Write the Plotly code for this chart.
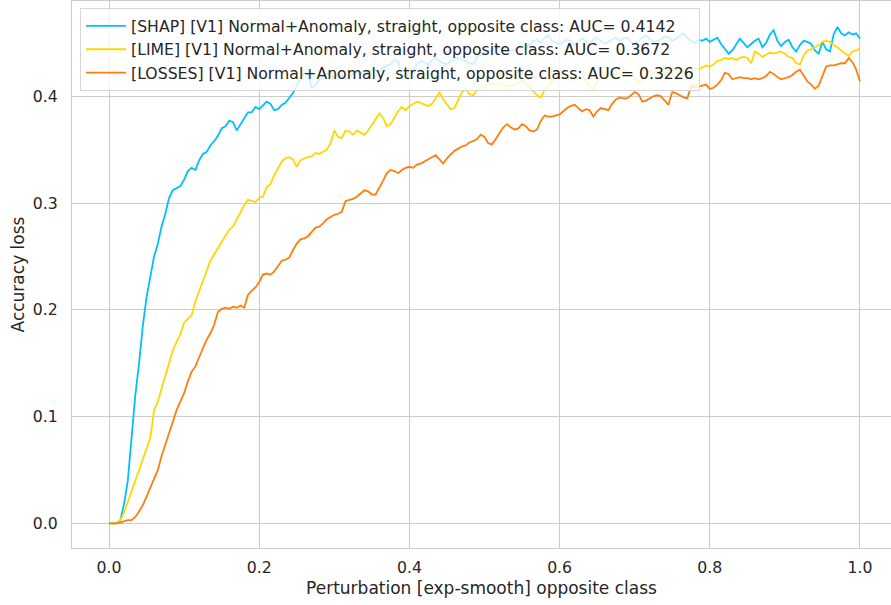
import numpy as np
import plotly.graph_objects as go

# perturbation fraction grid (0 .. 1, step 0.005)
perturbation = np.round(np.arange(201) * 0.005, 3)

shap_loss = [
    0.000, 0.000, 0.000, 0.003, 0.018, 0.040, 0.080, 0.120, 0.150, 0.185,
    0.212, 0.232, 0.250, 0.262, 0.278, 0.290, 0.305, 0.312, 0.314, 0.316,
    0.322, 0.330, 0.333, 0.331, 0.340, 0.346, 0.348, 0.354, 0.358, 0.363,
    0.370, 0.372, 0.377, 0.376, 0.368, 0.374, 0.380, 0.385, 0.385, 0.390,
    0.388, 0.392, 0.395, 0.393, 0.387, 0.388, 0.392, 0.394, 0.399, 0.403,
    0.410, 0.418, 0.422, 0.420, 0.408, 0.410, 0.416, 0.418, 0.421, 0.420,
    0.417, 0.422, 0.419, 0.416, 0.418, 0.421, 0.423, 0.421, 0.424, 0.422,
    0.425, 0.424, 0.423, 0.427, 0.429, 0.430, 0.434, 0.433, 0.417, 0.420,
    0.424, 0.425, 0.430, 0.433, 0.432, 0.429, 0.434, 0.436, 0.433, 0.431,
    0.430, 0.433, 0.435, 0.436, 0.434, 0.433, 0.431, 0.430, 0.437, 0.440,
    0.441, 0.443, 0.443, 0.445, 0.446, 0.444, 0.442, 0.443, 0.444, 0.446,
    0.447, 0.445, 0.449, 0.452, 0.453, 0.450, 0.455, 0.457, 0.452, 0.450,
    0.449, 0.451, 0.453, 0.452, 0.448, 0.451, 0.454, 0.452, 0.450, 0.453,
    0.455, 0.452, 0.449, 0.451, 0.453, 0.455, 0.452, 0.454, 0.455, 0.451,
    0.449, 0.452, 0.455, 0.457, 0.454, 0.451, 0.452, 0.453, 0.456, 0.455,
    0.452, 0.454, 0.457, 0.459, 0.455, 0.452, 0.450, 0.453, 0.452, 0.454,
    0.451, 0.453, 0.455, 0.449, 0.445, 0.440, 0.443, 0.449, 0.454, 0.450,
    0.446, 0.449, 0.452, 0.454, 0.446, 0.450, 0.458, 0.462, 0.452, 0.447,
    0.451, 0.453, 0.446, 0.442, 0.448, 0.452, 0.451, 0.449, 0.443, 0.440,
    0.451, 0.444, 0.442, 0.458, 0.465, 0.459, 0.457, 0.460, 0.458, 0.459,
    0.454,
]

lime_loss = [
    0.000, 0.000, 0.000, 0.003, 0.010, 0.020, 0.030, 0.040, 0.048, 0.058,
    0.068, 0.080, 0.106, 0.114, 0.126, 0.138, 0.152, 0.162, 0.170, 0.177,
    0.188, 0.192, 0.195, 0.208, 0.218, 0.228, 0.238, 0.246, 0.252, 0.258,
    0.263, 0.270, 0.275, 0.278, 0.285, 0.291, 0.298, 0.303, 0.302, 0.301,
    0.305, 0.306, 0.315, 0.318, 0.326, 0.332, 0.339, 0.342, 0.343, 0.341,
    0.334, 0.340, 0.342, 0.343, 0.344, 0.347, 0.346, 0.348, 0.350, 0.356,
    0.368, 0.362, 0.361, 0.368, 0.367, 0.364, 0.368, 0.366, 0.364, 0.368,
    0.373, 0.378, 0.384, 0.380, 0.372, 0.374, 0.380, 0.386, 0.390, 0.387,
    0.391, 0.393, 0.395, 0.394, 0.392, 0.391, 0.393, 0.398, 0.404, 0.397,
    0.393, 0.388, 0.389, 0.396, 0.404, 0.407, 0.402, 0.401, 0.406, 0.408,
    0.409, 0.411, 0.412, 0.411, 0.413, 0.411, 0.409, 0.409, 0.411, 0.413,
    0.415, 0.412, 0.408, 0.405, 0.401, 0.399, 0.406, 0.410, 0.414, 0.418,
    0.416, 0.418, 0.417, 0.415, 0.416, 0.418, 0.419, 0.416, 0.409, 0.407,
    0.414, 0.419, 0.421, 0.419, 0.420, 0.422, 0.421, 0.423, 0.424, 0.420,
    0.416, 0.413, 0.416, 0.421, 0.424, 0.422, 0.423, 0.421, 0.419, 0.423,
    0.426, 0.424, 0.421, 0.423, 0.425, 0.423, 0.426, 0.425, 0.427, 0.429,
    0.428, 0.430, 0.433, 0.434, 0.436, 0.435, 0.436, 0.434, 0.436, 0.437,
    0.436, 0.431, 0.442, 0.440, 0.437, 0.439, 0.441, 0.440, 0.441, 0.442,
    0.440, 0.437, 0.436, 0.431, 0.430, 0.438, 0.443, 0.444, 0.446, 0.448,
    0.451, 0.452, 0.451, 0.448, 0.446, 0.443, 0.440, 0.438, 0.442, 0.443,
    0.445,
]

losses_loss = [
    0.000, 0.000, 0.000, 0.001, 0.002, 0.003, 0.003, 0.006, 0.011, 0.017,
    0.025, 0.033, 0.042, 0.050, 0.063, 0.074, 0.086, 0.096, 0.106, 0.114,
    0.122, 0.133, 0.142, 0.147, 0.156, 0.164, 0.172, 0.178, 0.186, 0.198,
    0.201, 0.202, 0.201, 0.203, 0.202, 0.204, 0.202, 0.214, 0.218, 0.221,
    0.226, 0.233, 0.234, 0.233, 0.236, 0.241, 0.246, 0.247, 0.249, 0.256,
    0.262, 0.266, 0.267, 0.269, 0.273, 0.277, 0.278, 0.281, 0.285, 0.287,
    0.289, 0.290, 0.292, 0.302, 0.303, 0.304, 0.306, 0.309, 0.312, 0.311,
    0.308, 0.308, 0.314, 0.321, 0.328, 0.331, 0.330, 0.328, 0.331, 0.333,
    0.334, 0.333, 0.336, 0.337, 0.339, 0.341, 0.343, 0.345, 0.341, 0.337,
    0.342, 0.346, 0.349, 0.351, 0.353, 0.354, 0.357, 0.358, 0.360, 0.364,
    0.362, 0.356, 0.355, 0.360, 0.365, 0.371, 0.374, 0.371, 0.369, 0.370,
    0.374, 0.372, 0.368, 0.367, 0.369, 0.377, 0.382, 0.381, 0.381, 0.382,
    0.383, 0.386, 0.389, 0.391, 0.392, 0.389, 0.386, 0.388, 0.387, 0.381,
    0.386, 0.389, 0.388, 0.387, 0.393, 0.397, 0.399, 0.398, 0.398, 0.401,
    0.404, 0.402, 0.395, 0.396, 0.398, 0.400, 0.401, 0.400, 0.396, 0.392,
    0.404, 0.403, 0.401, 0.399, 0.398, 0.409, 0.409, 0.409, 0.410, 0.411,
    0.407, 0.408, 0.411, 0.415, 0.422, 0.421, 0.416, 0.417, 0.418, 0.417,
    0.417, 0.416, 0.417, 0.416, 0.417, 0.419, 0.423, 0.421, 0.418, 0.416,
    0.417, 0.418, 0.420, 0.423, 0.425, 0.419, 0.414, 0.411, 0.407, 0.410,
    0.420, 0.428, 0.429, 0.429, 0.430, 0.431, 0.431, 0.436, 0.432, 0.425,
    0.414,
]

series_names = [
    "[SHAP] [V1] Normal+Anomaly, straight, opposite class: AUC= 0.4142",
    "[LIME] [V1] Normal+Anomaly, straight, opposite class: AUC= 0.3672",
    "[LOSSES] [V1] Normal+Anomaly, straight, opposite class: AUC= 0.3226",
]
series_colors = ["#00bfff", "#ffd700", "#ff7f0e"]

x_ticks = [0.0, 0.2, 0.4, 0.6, 0.8, 1.0]
y_ticks = [0.0, 0.1, 0.2, 0.3, 0.4]

TEXT = "#262626"
GRID = "#cccccc"

fig = go.Figure()
for name, vals, col in zip(series_names, [shap_loss, lime_loss, losses_loss], series_colors):
    fig.add_trace(go.Scatter(
        x=perturbation, y=vals, mode="lines", name=name,
        line=dict(color=col, width=1.8),
    ))

fig.update_layout(
    width=891, height=605,
    margin=dict(l=72, r=0, t=1, b=57),
    paper_bgcolor="white", plot_bgcolor="white",
    font=dict(family="DejaVu Sans", size=15.7, color=TEXT),
    showlegend=True,
    legend=dict(
        x=0.0098, y=0.987, xanchor="left", yanchor="top",
        bgcolor="rgba(255,255,255,0.8)",
        bordercolor="rgba(204,204,204,0.8)", borderwidth=1,
        font=dict(family="DejaVu Sans", size=15.7, color=TEXT),
        itemwidth=40,
        tracegroupgap=0,
    ),
    xaxis=dict(
        range=[-0.0493, 1.0413],
        tickvals=x_ticks, ticktext=[f"{v:.1f}" for v in x_ticks],
        tickfont=dict(size=15.7),
        showgrid=True, gridcolor=GRID, gridwidth=1,
        zeroline=False,
        showline=True, linecolor=GRID, linewidth=1.25, mirror=True,
        ticks="", ticklabelstandoff=5,
        title=dict(text="Perturbation [exp-smooth] opposite class",
                   font=dict(size=17, color=TEXT), standoff=6),
    ),
    yaxis=dict(
        range=[-0.0231, 0.4893],
        tickvals=y_ticks, ticktext=[f"{v:.1f}" for v in y_ticks],
        tickfont=dict(size=15.7),
        showgrid=True, gridcolor=GRID, gridwidth=1,
        zeroline=False,
        showline=True, linecolor=GRID, linewidth=1.25, mirror=True,
        ticks="", ticklabelstandoff=10,
        title=dict(text="Accuracy loss", font=dict(size=17, color=TEXT), standoff=3),
    ),
)

fig.write_html("out.html")
